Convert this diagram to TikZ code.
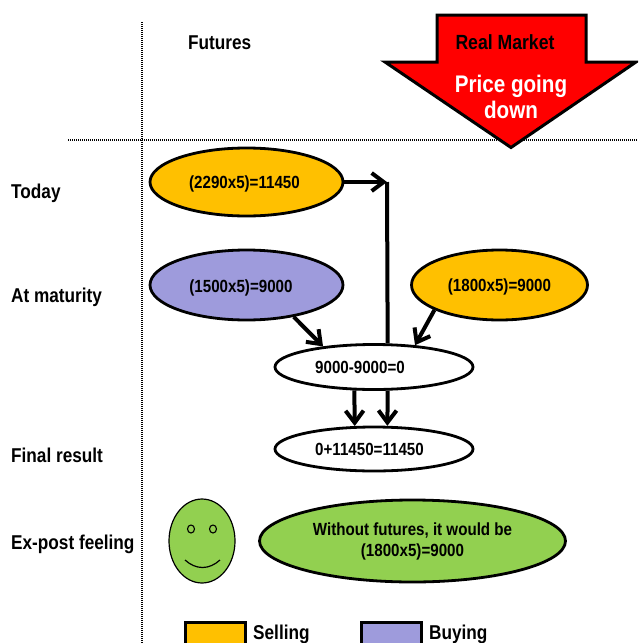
\documentclass[tikz,border=0pt]{standalone}
\usepackage{fontspec}
\setmainfont{Liberation Sans}[FakeStretch=0.86]
\usetikzlibrary{shapes.geometric,arrows.meta}
\definecolor{sellc}{HTML}{FFC000}
\definecolor{buyc}{HTML}{9E9BDC}
\definecolor{feelc}{HTML}{92D050}
\tikzset{
  oval/.style={ellipse,draw=black,line width=2.8pt,inner sep=0pt,font=\fontsize{17.6}{21}\selectfont\bfseries,align=center},
  sidelabel/.style={anchor=west,inner sep=0pt,font=\fontsize{20}{24}\selectfont\bfseries},
  link/.style={line width=4pt,draw=black},
  arrowlink/.style={link,-{Straight Barb[length=12pt,width=18pt,line width=4pt]}},
  guide/.style={line width=1.2pt,dash pattern=on 1pt off 1pt},
  swatch/.style={rectangle,draw=black,line width=3pt,minimum width=60pt,minimum height=40pt,inner sep=0pt,anchor=north west},
  facepart/.style={ellipse,draw=black,line width=1.1pt,inner sep=0pt}
}
\begin{document}
\begin{tikzpicture}[x=1pt,y=-1pt]
\useasboundingbox (0,0) rectangle (638,643);
\clip (0,0) rectangle (638,643);
\draw[guide] (142,22) -- (142,643);
\draw[guide] (68,140) -- (638,140);
% Real market arrow
\path[fill=red,draw=black,line width=3pt,line join=miter,miter limit=10]
  (437,15) -- (586,15) -- (586,62) -- (636,62) -- (511,147.5) -- (385,62) -- (437,62) -- cycle;
\node[inner sep=0pt,font=\fontsize{20.5}{24}\selectfont\bfseries] (real) at (505,42) {Real Market};
\node[inner sep=0pt,text=white,align=center,font=\fontsize{24}{26}\selectfont\bfseries] (price) at (511,97) {Price going\\down};
\node[sidelabel] (futures) at (188,43) {Futures};
\node[sidelabel] (today) at (11,193) {Today};
\node[sidelabel] (maturity) at (11,297) {At maturity};
\node[sidelabel] (final) at (11,455) {Final result};
\node[sidelabel] (feeling) at (11,544) {Ex-post feeling};
% Ovals
\node[oval,fill=sellc,minimum width=193pt,minimum height=68pt] (sell) at (246.5,182) {\rule{0pt}{17pt}(2290x5)=11450\hspace*{4pt}};
\node[oval,fill=buyc,minimum width=193pt,minimum height=70pt] (buy) at (246.5,285) {\rule{0pt}{19pt}(1500x5)=9000\hspace*{11pt}};
\node[oval,fill=sellc,minimum width=176pt,minimum height=70pt] (spot) at (499.5,285) {\rule{0pt}{17pt}(1800x5)=9000};
\node[oval,fill=white,minimum width=198pt,minimum height=45pt] (res) at (374,367) {9000-9000=0\hspace*{28pt}};
\node[oval,fill=white,minimum width=198pt,minimum height=44pt] (total) at (374,449) {0+11450=11450\hspace*{9pt}};
\node[oval,fill=feelc,minimum width=306pt,minimum height=82pt] (without) at (412.5,541) {Without futures, it would be\\(1800x5)=9000};
% Connectors
\coordinate (junction) at (387,182);
\draw[arrowlink] (sell.east) -- (junction);
\draw[link] (junction) -- (res.60);
\draw[arrowlink] (buy.-34) -- (res.158);
\draw[arrowlink] (spot.201) -- (res.28);
\draw[arrowlink] (res.-130) -- (total.130);
\draw[arrowlink] (res.-60) -- (total.60);
% Face
\node[ellipse,draw=black,line width=1.2pt,fill=feelc,minimum width=66pt,minimum height=84pt,inner sep=0pt] (face) at (202,541) {};
\node[facepart,minimum width=7pt,minimum height=8pt] (eyeL) at (191,529) {};
\node[facepart,minimum width=7pt,minimum height=8pt] (eyeR) at (213,529) {};
\draw[line width=1.2pt] (185,560) .. controls (196,570) and (209,570) .. (220,560);
% Legend
\node[swatch,fill=sellc] (sellbox) at (183.5,621) {};
\node[sidelabel] (selling) at (253,634) {Selling};
\node[swatch,fill=buyc] (buybox) at (359.5,621) {};
\node[sidelabel] (buying) at (429,634) {Buying};
\end{tikzpicture}
\end{document}
